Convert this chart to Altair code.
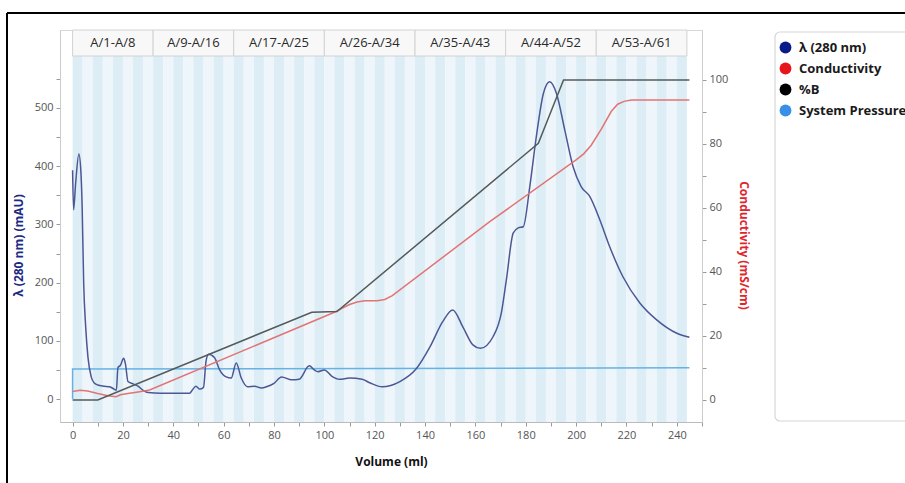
import altair as alt
import pandas as pd

# ---------------- data ----------------
uv_ml = [0, 0.4, 1.2, 2.5, 3.3, 3.8, 4.4, 5.2, 6.1, 7.4, 8.5, 10, 12.5, 14.7, 16.5, 17.4, 18, 19,
         20.3, 21, 22, 24, 26, 28, 30, 35, 40, 46.5, 47.5, 49, 50.5, 52, 53, 54, 56.4, 58.4, 61,
         63, 65, 67, 69.5, 72.3, 75, 77, 80, 83, 87, 90, 94, 96, 97.5, 100, 103, 106, 110, 115,
         118, 123, 130, 136.5, 142, 147, 151, 155, 159, 162, 167, 170.3, 172.3, 175, 177, 179,
         181.6, 184.2, 187, 189.5, 192.2, 195.5, 198.8, 202, 205.4, 209.4, 213.3, 218.6, 225.3,
         232, 240, 245]
uv_mau = [393, 325, 370, 421, 390, 330, 200, 124, 72, 38, 28, 24, 22, 21, 17, 15, 54, 58,
          70, 60, 30, 26, 22, 15, 11, 10, 10, 10, 15, 22, 17, 20, 65, 77, 71, 50, 38,
          36, 62, 36, 21, 22, 19, 21, 27, 38, 33, 34, 57, 50, 47, 50, 39, 34, 36, 34,
          28, 21, 30, 52, 90, 133, 153, 124, 93, 87, 107, 148, 205, 285, 294, 296,
          365, 451, 525, 545, 525, 462, 399, 365, 348, 308, 262, 210, 165,
          136, 113, 106]

cond_ml = [0, 3, 6, 10, 14, 17.3, 19, 22.6, 26, 30.6, 104, 107, 110, 113, 116, 121, 124, 127,
           165.7, 200, 203, 206, 210, 214, 216.5, 219, 222, 245]
cond_val = [2.6, 3.0, 2.8, 2.0, 1.3, 1.0, 1.6, 2.1, 2.5, 3.1, 27.4, 28.6, 29.8, 30.6, 31.0, 31.0, 31.4, 32.6,
            55.7, 75.0, 76.9, 79.6, 84.6, 90.2, 92.4, 93.3, 93.7, 93.7]

pctb_ml = [0, 10, 95, 105, 185, 195, 245]
pctb_val = [0, 0, 27.4, 27.6, 80.2, 100, 100]

pres_ml = [0, 0, 245]
pres_val = [0, 51.5, 53.5]

group_labels = ["A/1-A/8", "A/9-A/16", "A/17-A/25", "A/26-A/34", "A/35-A/43", "A/44-A/52", "A/53-A/61"]
group_start = [0, 32, 64, 100, 136, 172, 208]
group_end = [32, 64, 100, 136, 172, 208, 244]

fraction_names = ["A/%d" % i for i in range(1, 62)]
fraction_ml = 4

series_names = ["λ (280 nm)", "Conductivity", "%B", "System Pressure"]
series_colors = ["#0b1a8a", "#e8141c", "#000000", "#3890e6"]

# ---------------- tables ----------------
uv_df = pd.DataFrame({"ml": uv_ml, "v": uv_mau})
pres_df = pd.DataFrame({"ml": pres_ml, "v": pres_val, "i": list(range(len(pres_ml)))})
cond_df = pd.DataFrame({"ml": cond_ml, "r": cond_val})
pctb_df = pd.DataFrame({"ml": pctb_ml, "r": pctb_val})
group_df = pd.DataFrame({"label": group_labels, "start": group_start, "end": group_end})
stripe_df = pd.DataFrame({
    "name": fraction_names,
    "start": [k * fraction_ml for k in range(len(fraction_names))],
    "end": [(k + 1) * fraction_ml for k in range(len(fraction_names))],
    "col": ["#dcedf6" if k % 2 == 0 else "#eef6fb" for k in range(len(fraction_names))],
})
legend_df = pd.DataFrame({"series": series_names})

FONT = "Open Sans"
xscale = alt.Scale(domain=[-5, 250], nice=False, zero=False)
left_scale = alt.Scale(domain=[-39.5, 634], nice=False, zero=False)
right_scale = alt.Scale(domain=[-6.9, 115.6], nice=False, zero=False)

x_axis = alt.Axis(
    values=list(range(0, 251, 10)),
    labelExpr="(datum.value % 20 == 0 && datum.value <= 240) ? datum.label : ''",
    grid=False, tickSize=4, tickColor="#999999", domainColor="#bbbbbb",
    labelColor="#555555", labelFontSize=11, labelPadding=3, labelFont=FONT,
    title="Volume (ml)", titleFont=FONT, titleFontSize=12, titleFontWeight="bold",
    titleColor="#111111", titlePadding=16, titleX=331,
)
left_axis = alt.Axis(
    orient="left", values=list(range(0, 551, 50)),
    labelExpr="datum.value % 100 == 0 ? datum.label : ''",
    grid=False, tickSize=4, tickColor="#999999", domainColor="#cccccc",
    labelColor="#555555", labelFontSize=11, labelPadding=3, labelFont=FONT,
    title="λ (280 nm) (mAU)", titleFont=FONT, titleFontSize=12, titleFontWeight="bold",
    titleColor="#1c2a86", titlePadding=9, titleY=215,
)
right_axis = alt.Axis(
    orient="right", values=list(range(0, 101, 10)),
    labelExpr="datum.value % 20 == 0 ? datum.label : ''",
    grid=False, tickSize=4, tickColor="#999999", domainColor="#cccccc",
    labelColor="#555555", labelFontSize=11, labelPadding=3, labelFont=FONT,
    title="Conductivity (mS/cm)", titleFont=FONT, titleFontSize=12, titleFontWeight="bold",
    titleColor="#e0252c", titlePadding=9, titleY=215,
)

one = pd.DataFrame({"a": [0]})

border_top = alt.Chart(one).mark_rule(color="#000000", strokeWidth=2).encode(
    x=alt.value(-53), x2=alt.value(900), y=alt.value(-17))
border_left = alt.Chart(one).mark_rule(color="#000000", strokeWidth=2).encode(
    x=alt.value(-53), y=alt.value(-17), y2=alt.value(460))

stripes = alt.Chart(stripe_df).mark_rect().encode(
    x=alt.X("start:Q", scale=xscale, axis=x_axis),
    x2="end:Q",
    y=alt.value(26), y2=alt.value(392),
    fill=alt.Fill("col:N", scale=None, legend=None),
)

header_box = alt.Chart(group_df).mark_rect(fill="#f8f8f8", stroke="#d2d2d2", strokeWidth=1).encode(
    x=alt.X("start:Q", scale=xscale, axis=x_axis), x2="end:Q",
    y=alt.value(0), y2=alt.value(26),
)
header_text = alt.Chart(group_df).transform_calculate(
    mid="(datum.start + datum.end) / 2"
).mark_text(font=FONT, fontSize=13, color="#2a2a2a", baseline="middle").encode(
    x=alt.X("mid:Q", scale=xscale, axis=x_axis),
    y=alt.value(13),
    text="label:N",
)

uv = alt.Chart(uv_df).mark_line(color="#4c5895", strokeWidth=1.5, interpolate="monotone").encode(
    x=alt.X("ml:Q", scale=xscale, axis=x_axis),
    y=alt.Y("v:Q", scale=left_scale, axis=left_axis),
)
pres = alt.Chart(pres_df).mark_line(color="#66b2e4", strokeWidth=1.5).encode(
    x=alt.X("ml:Q", scale=xscale, axis=x_axis),
    y=alt.Y("v:Q", scale=left_scale, axis=left_axis),
    order="i:O",
)
left = alt.layer(pres, uv)

cond = alt.Chart(cond_df).mark_line(color="#e27474", strokeWidth=1.5).encode(
    x=alt.X("ml:Q", scale=xscale, axis=x_axis),
    y=alt.Y("r:Q", scale=right_scale, axis=right_axis),
)
pctb = alt.Chart(pctb_df).mark_line(color="#555a5a", strokeWidth=1.5).encode(
    x=alt.X("ml:Q", scale=xscale, axis=x_axis),
    y=alt.Y("r:Q", scale=right_scale, axis=right_axis),
)
right = alt.layer(cond, pctb)

legend_box = alt.Chart(one).mark_rect(fill="#ffffff", stroke="#d6d6d6", strokeWidth=1.2, cornerRadius=5).encode(
    x=alt.value(715), x2=alt.value(880), y=alt.value(2), y2=alt.value(391))

legend_layer = alt.Chart(legend_df).mark_point(filled=True, opacity=0, shape="circle").encode(
    x=alt.value(0), y=alt.value(0),
    color=alt.Color("series:N", scale=alt.Scale(domain=series_names, range=series_colors),
                    legend=alt.Legend(orient="none", legendX=719, legendY=11, title=None,
                                      symbolType="circle", symbolSize=140, symbolOpacity=1,
                                      symbolStrokeWidth=0, labelFont=FONT, labelFontSize=13,
                                      labelFontWeight="bold", labelColor="#1a1a1a",
                                      labelOffset=7, rowPadding=7, padding=0)),
)

chart = alt.layer(
    border_top, border_left, stripes, header_box, header_text, left, right, legend_box, legend_layer
).resolve_scale(y="independent").properties(
    width=642, height=392,
    padding={"left": 60, "top": 30, "right": 203, "bottom": 61},
    autosize=alt.AutoSizeParams(type="none"),
    background="#ffffff",
).configure_view(stroke="#d8d8d8")

chart.save("out.html", embed_options={"renderer": "svg", "actions": False})
